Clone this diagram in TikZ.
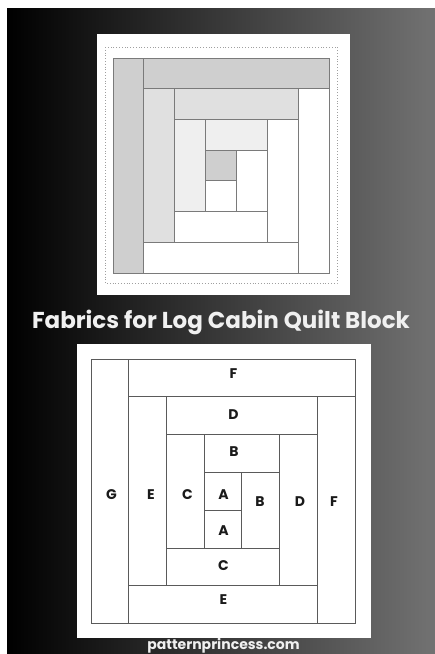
\documentclass[tikz,border=0pt]{standalone}
\usepackage{fontspec}
\setmainfont{Poppins}
\definecolor{bgright}{HTML}{727272}
\definecolor{gA}{HTML}{CFCFCF}
\definecolor{gB}{HTML}{E0E0E0}
\definecolor{gC}{HTML}{EFEFEF}
\definecolor{lineT}{HTML}{7A7A7A}
\definecolor{lineB}{HTML}{5A5A5A}
\definecolor{lbl}{HTML}{1A1A1A}
\tikzset{
  pieceT/.style={draw=lineT, line width=0.8pt},
  pieceB/.style={draw=lineB, line width=0.9pt, fill=white},
  lab/.style={text=lbl, font=\bfseries\fontsize{14}{14}\selectfont, inner sep=0pt},
}
\begin{document}
\begin{tikzpicture}[x=1pt,y=-1pt]
\useasboundingbox (0,0) rectangle (435,654);
\fill[white] (0,0) rectangle (435,654);
\shade[left color=black, right color=bgright] (7,8) rectangle (435,654);
% top panel
\fill[white] (97,34) rectangle (350,295);
\draw[gray!75, dotted, line width=0.8pt] (105,47) rectangle (337,283);
\begin{scope}[shift={(113,58)}, x=30.86pt, y=-30.7pt]
  \foreach \a/\b/\c/\d/\col in {0/0/1/7/gA, 1/0/7/1/gA, 6/1/7/7/white, 1/1/2/6/gB, 1/6/6/7/white,
     2/1/6/2/gB, 5/2/6/6/white, 2/2/3/5/gC, 2/5/5/6/white, 3/2/5/3/gC, 4/3/5/5/white,
     3/3/4/4/gA, 3/4/4/5/white}
    \draw[pieceT, fill=\col] (\a,\b) rectangle (\c,\d);
\end{scope}
% title
\node[text=white!94!black, font=\bfseries\fontsize{23}{23}\selectfont, inner sep=0pt] (title) at (221,322) {Fabrics for Log Cabin Quilt Block};
% bottom panel
\fill[white] (77,344) rectangle (371,638);
\begin{scope}[shift={(91,359)}, x=37.72pt, y=-37.8pt]
  \foreach \a/\b/\c/\d in {0/0/1/7, 1/0/7/1, 6/1/7/7, 1/1/2/6, 1/6/6/7,
     2/1/6/2, 5/2/6/6, 2/2/3/5, 2/5/5/6, 3/2/5/3, 4/3/5/5, 3/3/4/4, 3/4/4/5}
    \draw[pieceB] (\a,\b) rectangle (\c,\d);
\end{scope}
\node[lab] (Ftop) at (233.5,374) {F};
\node[lab] (Dtop) at (233.5,415) {D};
\node[lab] (Btop) at (234,451.5) {B};
\node[lab] (G) at (111.5,495) {G};
\node[lab] (Eleft) at (151,495) {E};
\node[lab] (Cleft) at (187.5,495) {C};
\node[lab] (Atop) at (223.5,495) {A};
\node[lab] (Bright) at (260,501.5) {B};
\node[lab] (Dright) at (300,501.5) {D};
\node[lab] (Fright) at (334,501.5) {F};
\node[lab] (Abot) at (223.5,530.5) {A};
\node[lab] (Cbot) at (223.5,565.5) {C};
\node[lab] (Ebot) at (223.5,599.5) {E};
% url
\node[text=white!94!black, font=\bfseries\fontsize{14}{14}\selectfont, inner sep=0pt, anchor=base] (url) at (223.5,649.5) {patternprincess.com};
\end{tikzpicture}
\end{document}
